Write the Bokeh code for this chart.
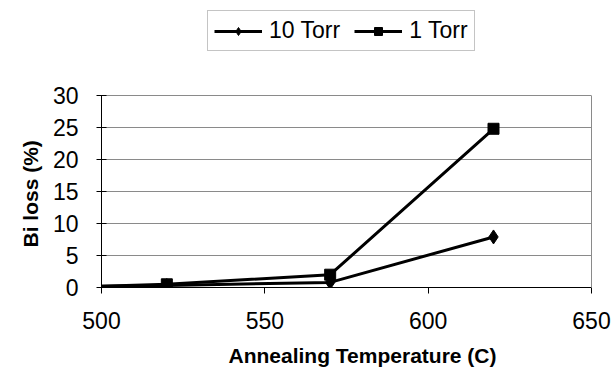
from bokeh.plotting import figure
from bokeh.models import Legend, LegendItem, FixedTicker, Range1d, LinearAxis, Title
from bokeh.embed import file_html
from bokeh.resources import INLINE

temps_10 = [500, 520, 570, 620]
loss_10 = [0.2, 0.3, 0.8, 7.9]
temps_1 = [500, 520, 570, 620]
loss_1 = [0.2, 0.5, 2.0, 24.8]
x_ticks = [500, 550, 600, 650]
y_ticks = [0, 5, 10, 15, 20, 25, 30]

FONT = "Liberation Sans"
GRAY = "#8a8a8a"

W, H = 614, 380
LEFT, RIGHT, TOP, BOTTOM = 101, 23, 5, 93
PLOT_TOP_PX = 95  # where the 30% line sits
frame_h = H - TOP - BOTTOM
y_end = 30 * frame_h / (H - BOTTOM - PLOT_TOP_PX)

p = figure(width=W, height=H, output_backend="svg", toolbar_location=None,
           x_range=Range1d(500, 650), y_range=Range1d(0, y_end),
           min_border_left=LEFT, min_border_right=RIGHT, min_border_top=TOP,
           min_border_bottom=BOTTOM)
p.outline_line_color = None
p.xgrid.grid_line_color = None
p.ygrid.grid_line_color = GRAY
p.ygrid.grid_line_width = 1
p.background_fill_color = "white"
p.border_fill_color = "white"

p.xaxis.ticker = FixedTicker(ticks=x_ticks)
p.yaxis.ticker = FixedTicker(ticks=y_ticks)
p.yaxis.bounds = (0, 30)
for ax in (p.xaxis[0], p.yaxis[0]):
    ax.axis_line_color = "black"
    ax.major_tick_line_color = "black"
    ax.minor_tick_line_color = None
    ax.major_label_text_font = FONT
    ax.major_label_text_font_size = "23px"
    ax.major_label_text_color = "black"
p.xaxis.major_tick_in = 0
p.xaxis.major_tick_out = 6
p.yaxis.major_tick_in = 5
p.yaxis.major_tick_out = 5
p.xaxis.major_label_standoff = 18
p.yaxis.major_label_standoff = 18

# axis titles (placed as titles so they can be offset like the original)
p.add_layout(Title(text="Bi loss (%)", align="left", offset=40, text_font=FONT,
                   text_font_style="bold", text_font_size="21px", text_color="black",
                   standoff=16), "left")
p.add_layout(Title(text="Annealing Temperature (C)", align="left", offset=127, text_font=FONT,
                   text_font_style="bold", text_font_size="21px", text_color="black",
                   standoff=20), "below")

# right-hand border of the plot area
right_border = LinearAxis(bounds=(0, 30), ticker=FixedTicker(ticks=[]),
                          axis_line_color=GRAY, axis_line_width=1,
                          major_tick_line_color=None, minor_tick_line_color=None,
                          major_label_text_alpha=0)
p.add_layout(right_border, "right")

l10 = p.line(temps_10, loss_10, line_color="black", line_width=3)
m10 = p.scatter(temps_10[1:], loss_10[1:], marker="diamond", size=14,
                fill_color="black", line_color="black")
l1 = p.line(temps_1, loss_1, line_color="black", line_width=3)
m1 = p.scatter(temps_1[1:], loss_1[1:], marker="square", size=11,
               fill_color="black", line_color="black")

legend = Legend(items=[LegendItem(label="10 Torr", renderers=[l10, m10]),
                       LegendItem(label="1 Torr", renderers=[l1, m1])],
                orientation="horizontal", location=(106, 236),
                label_text_font=FONT, label_text_font_size="23px", label_text_color="black",
                glyph_width=48, glyph_height=20, label_standoff=7, spacing=14,
                padding=6, margin=0, border_line_color=GRAY, border_line_width=1,
                background_fill_color="white", background_fill_alpha=1)
p.add_layout(legend, "center")

open("out.html", "w").write(file_html(p, INLINE))
